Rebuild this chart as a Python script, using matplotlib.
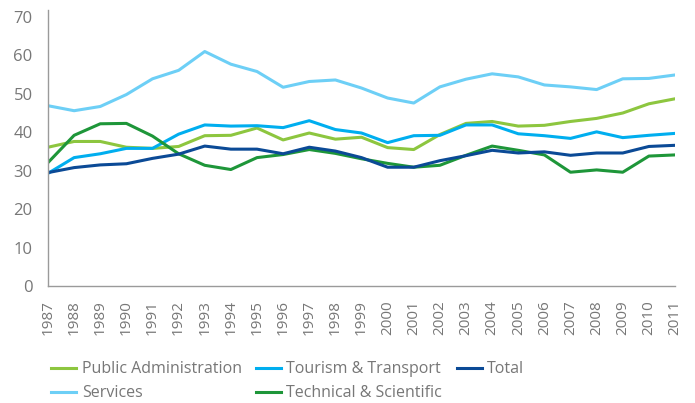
import matplotlib
matplotlib.use('Agg')
import matplotlib.pyplot as plt

years = list(range(1987, 2012))

public_admin = [36.1, 37.6, 37.6, 36.1, 35.8, 36.3, 39.1, 39.2, 41.1, 38.0, 39.8, 38.2,
                38.7, 36.0, 35.5, 39.4, 42.3, 42.8, 41.6, 41.8, 42.8, 43.6, 45.0, 47.4, 48.7]
services = [46.9, 45.6, 46.7, 49.8, 53.9, 56.1, 61.0, 57.7, 55.8, 51.7, 53.2, 53.6,
            51.5, 48.9, 47.6, 51.8, 53.8, 55.2, 54.4, 52.3, 51.8, 51.1, 53.9, 54.0, 54.9]
tourism = [29.3, 33.4, 34.4, 35.8, 35.8, 39.5, 41.9, 41.6, 41.7, 41.2, 43.0, 40.7,
           39.8, 37.3, 39.1, 39.2, 41.9, 41.9, 39.6, 39.1, 38.4, 40.1, 38.6, 39.2, 39.7]
technical = [32.1, 39.2, 42.2, 42.3, 39.0, 34.4, 31.4, 30.3, 33.4, 34.2, 35.5, 34.5,
             33.1, 31.9, 30.9, 31.4, 34.0, 36.4, 35.3, 34.1, 29.6, 30.2, 29.6, 33.8, 34.1]
total = [29.5, 30.8, 31.5, 31.8, 33.2, 34.3, 36.4, 35.6, 35.6, 34.4, 36.1, 35.1,
         33.4, 30.9, 30.9, 32.6, 33.9, 35.3, 34.6, 34.9, 34.0, 34.6, 34.6, 36.3, 36.6]

plt.rcParams['font.family'] = ['Open Sans', 'DejaVu Sans']

fig = plt.figure(figsize=(6.95, 4.03), dpi=100)
ax = fig.add_axes([48/695, 1-286/403, 627/695, 276/403])

lw = 2.2
# plotting order chosen to mimic overlap in the original
ax.plot(years, services, color='#6DCFF6', lw=lw, label='Services')
ax.plot(years, public_admin, color='#8DC63F', lw=lw, label='Public Administration')
ax.plot(years, tourism, color='#00AEEF', lw=lw, label='Tourism & Transport')
ax.plot(years, technical, color='#1E9639', lw=lw, label='Technical & Scientific')
ax.plot(years, total, color='#0B4A96', lw=lw, label='Total')

ax.set_xlim(1987, 2011)
ax.set_ylim(0, 71.8)
ax.set_yticks(range(0, 71, 10))
ax.set_xticks(years)
ax.set_xticklabels([str(y) for y in years], rotation=90)

for s in ['top', 'right']:
    ax.spines[s].set_visible(False)
for s in ['left', 'bottom']:
    ax.spines[s].set_color('#9a9a9a')
    ax.spines[s].set_linewidth(1.0)
ax.tick_params(length=0, colors='#777777', labelsize=12)
ax.tick_params(axis='x', labelsize=11, pad=10)
ax.tick_params(axis='y', pad=11)

handles, labels = ax.get_legend_handles_labels()
order = ['Public Administration', 'Services', 'Tourism & Transport',
         'Technical & Scientific', 'Total']
hmap = dict(zip(labels, handles))
leg = fig.legend([hmap[o] for o in order], order, ncol=3, loc='upper left',
                 bbox_to_anchor=(45/695, 1-355/403), frameon=False,
                 fontsize=11.5, handlelength=1.57, handletextpad=0.33,
                 columnspacing=0.9, labelspacing=0.5, borderaxespad=0)
for t in leg.get_texts():
    t.set_color('#777777')

fig.savefig('out.png', dpi=100)
